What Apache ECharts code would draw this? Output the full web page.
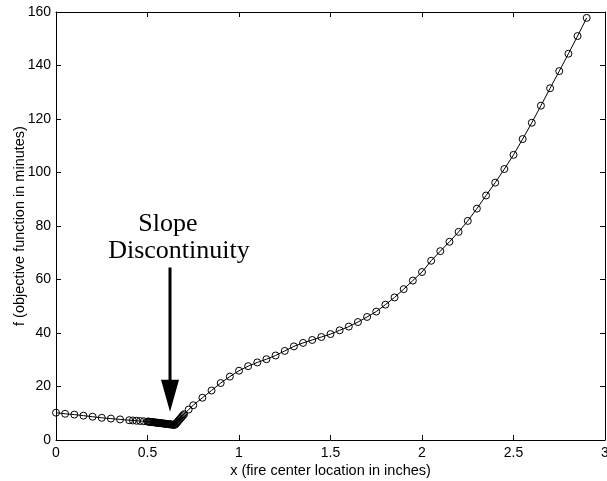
<!DOCTYPE html>
<html>
<head>
<meta charset="utf-8">
<script src="https://cdn.jsdelivr.net/npm/echarts@6/dist/echarts.min.js"></script>
<style>
  html, body { margin: 0; padding: 0; background: #fff; }
  #chart { width: 607px; height: 481px; }
</style>
</head>
<body>
<div id="chart"></div>
<script>
// Fire center location (inches) and objective function value (minutes)
const xInches = [
  0.00, 0.05, 0.10, 0.15, 0.20, 0.25, 0.30, 0.35, 0.40, 0.42, 0.44, 0.46, 0.48,
  0.500, 0.505, 0.510, 0.515, 0.520, 0.525, 0.530, 0.535, 0.540, 0.545,
  0.550, 0.555, 0.560, 0.565, 0.570, 0.575, 0.580, 0.585, 0.590, 0.595,
  0.600, 0.605, 0.610, 0.615, 0.620, 0.625, 0.630, 0.635, 0.640, 0.645,
  0.650, 0.655, 0.660, 0.665, 0.670, 0.675, 0.680, 0.685, 0.690, 0.695, 0.700,
  0.725, 0.75, 0.80, 0.85, 0.90, 0.95, 1.00, 1.05, 1.10, 1.15, 1.20, 1.25,
  1.30, 1.35, 1.40, 1.45, 1.50, 1.55, 1.60, 1.65, 1.70, 1.75, 1.80, 1.85,
  1.90, 1.95, 2.00, 2.05, 2.10, 2.15, 2.20, 2.25, 2.30, 2.35, 2.40, 2.45,
  2.50, 2.55, 2.60, 2.65, 2.70, 2.75, 2.80, 2.85, 2.90
];
const fMinutes = [
  10.2, 9.8, 9.5, 9.1, 8.7, 8.3, 8.0, 7.7, 7.4, 7.3, 7.2, 7.1, 7.0,
  6.90, 6.86, 6.82, 6.78, 6.73, 6.69, 6.65, 6.61, 6.56, 6.52,
  6.48, 6.44, 6.39, 6.35, 6.31, 6.27, 6.22, 6.18, 6.14, 6.10,
  6.05, 6.01, 5.97, 5.93, 5.88, 5.84, 5.80, 5.76, 5.71, 5.67,
  5.70, 6.05, 6.45, 6.85, 7.25, 7.65, 8.05, 8.45, 8.85, 9.25, 9.65,
  11.4, 13.0, 15.8, 18.5, 21.3, 23.7, 25.9, 27.6, 29.0, 30.2, 31.6, 33.3,
  35.0, 36.3, 37.4, 38.5, 39.6, 41.0, 42.4, 44.1, 46.0, 48.0, 50.6, 53.3,
  56.4, 59.6, 62.8, 67.0, 70.6, 74.1, 77.8, 81.9, 86.5, 91.4, 96.2, 101.3,
  106.6, 112.5, 118.6, 125.0, 131.5, 137.9, 144.4, 151.0, 157.8
];

// Axis ranges and ticks
const xTicks = [0, 0.5, 1, 1.5, 2, 2.5, 3];
const yTicks = [0, 20, 40, 60, 80, 100, 120, 140, 160];

// Annotation: label lines and arrow (data coordinates)
const noteLines = ['Slope', 'Discontinuity'];
const noteAnchor = [0.672, 76];     // bottom-centre of the first label line
const arrowFrom = [0.623, 64.5];
const arrowTo = [0.623, 10.6];

const points = xInches.map((x, i) => [x, fMinutes[i]]);

const chart = echarts.init(document.getElementById('chart'), null, { renderer: 'canvas' });

const sans = '"Liberation Sans", Arial, Helvetica, sans-serif';
const tickFont = { fontFamily: sans, fontSize: 14, color: '#000' };
const axisLine = { show: true, onZero: false, lineStyle: { color: '#000', width: 1 } };
const tickIn = { show: true, inside: true, length: 5, lineStyle: { color: '#000', width: 1 } };

chart.setOption({
  animation: false,
  backgroundColor: '#fff',
  grid: { left: 56, top: 12, width: 549, height: 428, containLabel: false, outerBoundsMode: 'none' },
  xAxis: [
    {
      type: 'value', min: xTicks[0], max: xTicks[xTicks.length - 1], interval: 0.5,
      position: 'bottom',
      axisLine, axisTick: tickIn, splitLine: { show: false },
      axisLabel: Object.assign({ margin: 6, formatter: v => String(v), showMaxLabel: true, showMinLabel: true }, tickFont),
      name: 'x (fire center location in inches)', nameLocation: 'middle', nameGap: 23,
      nameMoveOverlap: false,
      nameTextStyle: { fontFamily: sans, fontSize: 14.5, color: '#000' }
    },
    {
      type: 'value', min: xTicks[0], max: xTicks[xTicks.length - 1], interval: 0.5,
      position: 'top',
      axisLine, axisTick: tickIn, splitLine: { show: false }, axisLabel: { show: false }
    }
  ],
  yAxis: [
    {
      type: 'value', min: yTicks[0], max: yTicks[yTicks.length - 1], interval: 20,
      position: 'left',
      axisLine, axisTick: tickIn, splitLine: { show: false },
      axisLabel: Object.assign({ margin: 5 }, tickFont),
      name: 'f (objective function in minutes)', nameLocation: 'middle', nameGap: 29,
      nameMoveOverlap: false,
      nameTextStyle: { fontFamily: sans, fontSize: 14.5, color: '#000' }
    },
    {
      type: 'value', min: yTicks[0], max: yTicks[yTicks.length - 1], interval: 20,
      position: 'right',
      axisLine, axisTick: tickIn, splitLine: { show: false }, axisLabel: { show: false }
    }
  ],
  series: [
    {
      type: 'line',
      data: points,
      xAxisIndex: 0, yAxisIndex: 0,
      symbol: 'circle',
      symbolSize: 7,
      showSymbol: true,
      showAllSymbol: true,
      sampling: null,
      lineStyle: { color: '#000', width: 1 },
      itemStyle: { color: 'rgba(0,0,0,0)', borderColor: '#000', borderWidth: 1 },
      emphasis: { disabled: true },
      z: 3
    }
  ]
});

// Annotation drawn from data coordinates
function drawNote() {
  const toPx = p => chart.convertToPixel({ xAxisIndex: 0, yAxisIndex: 0 }, p);
  const a = toPx(noteAnchor);
  const s = toPx(arrowFrom);
  const t = toPx(arrowTo);
  const headLen = 32, headHalf = 9;
  const serif = '"Liberation Serif", "Times New Roman", Times, serif';
  chart.setOption({
    graphic: [
      { type: 'text', x: a[0] - 11, y: a[1], style: { text: noteLines[0], font: '26px ' + serif, fill: '#000', align: 'center', verticalAlign: 'bottom' } },
      { type: 'text', x: a[0], y: a[1] + 27.5, style: { text: noteLines[1], font: '26px ' + serif, fill: '#000', align: 'center', verticalAlign: 'bottom' } },
      { type: 'line', shape: { x1: s[0], y1: s[1], x2: t[0], y2: t[1] - headLen + 4 }, style: { stroke: '#000', lineWidth: 3 } },
      { type: 'polygon', shape: { points: [[t[0] - headHalf, t[1] - headLen], [t[0] + headHalf, t[1] - headLen], [t[0], t[1]]] }, style: { fill: '#000' } }
    ]
  });
}
drawNote();
</script>
</body>
</html>
